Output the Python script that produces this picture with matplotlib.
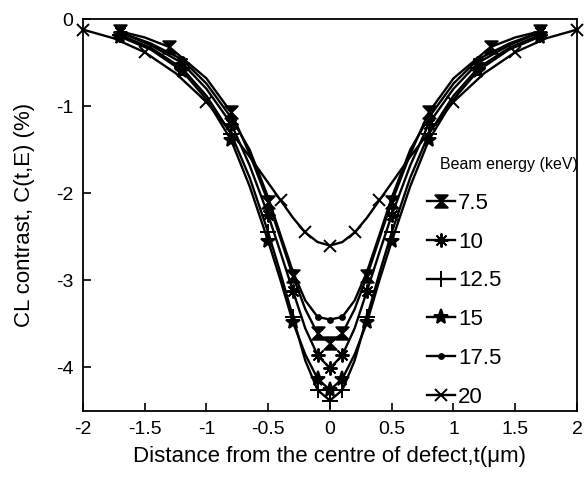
import numpy as np
import matplotlib
matplotlib.use("Agg")
import matplotlib.pyplot as plt
from matplotlib.path import Path

plt.rcParams['font.family'] = ['Liberation Sans', 'DejaVu Sans']
plt.rcParams['axes.unicode_minus'] = False

# half-profiles (t >= 0), mirrored below
t_half = [0, 0.1, 0.2, 0.3, 0.4, 0.5, 0.65, 0.8, 1.0, 1.2, 1.45, 1.7]
t75_half = [0, 0.1, 0.2, 0.3, 0.4, 0.5, 0.65, 0.8, 1.0, 1.3, 1.5, 1.7]
c_75 = [-3.72, -3.61, -3.33, -2.95, -2.52, -2.10, -1.55, -1.07, -0.68, -0.32, -0.21, -0.14]
c_10 = [-4.01, -3.86, -3.55, -3.12, -2.68, -2.25, -1.68, -1.20, -0.80, -0.50, -0.30, -0.15]
c_125 = [-4.38, -4.26, -3.92, -3.42, -2.92, -2.45, -1.82, -1.32, -0.88, -0.56, -0.33, -0.18]
c_15 = [-4.26, -4.13, -3.85, -3.48, -3.00, -2.55, -1.92, -1.39, -0.92, -0.59, -0.35, -0.20]
c_175 = [-3.45, -3.42, -3.23, -2.90, -2.48, -2.05, -1.50, -1.13, -0.74, -0.46, -0.28, -0.15]
t20_half = [0, 0.1, 0.2, 0.3, 0.4, 0.5, 0.65, 0.8, 1.0, 1.25, 1.5, 1.75, 2.0]
c_20 = [-2.60, -2.56, -2.45, -2.28, -2.08, -1.88, -1.58, -1.30, -0.95, -0.62, -0.38, -0.22, -0.12]

mark_t = [0, 0.1, 0.3, 0.5, 0.8, 1.2, 1.7]
mark_t75 = [0, 0.1, 0.3, 0.5, 0.8, 1.3, 1.7]
mark_t20 = [0, 0.2, 0.4, 1.0, 1.5, 2.0]

energies = ["7.5", "10", "12.5", "15", "17.5", "20"]

hourglass = Path([(-1, 1), (1, 1), (0, 0), (-1, 1), (-1, -1), (1, -1), (0, 0), (-1, -1)],
                 [Path.MOVETO, Path.LINETO, Path.LINETO, Path.CLOSEPOLY,
                  Path.MOVETO, Path.LINETO, Path.LINETO, Path.CLOSEPOLY])

def mirror(t, c):
    t = np.asarray(t, float)
    c = np.asarray(c, float)
    return np.concatenate([-t[:0:-1], t]), np.concatenate([c[:0:-1], c])

def mark_idx(tt, marks):
    return [i for i, v in enumerate(tt) if any(abs(abs(v) - m) < 1e-9 for m in marks)]

fig = plt.figure(figsize=(5.84, 4.79), dpi=100)
ax = fig.add_axes([0.142, 0.142, 0.846, 0.818])

series = [
    (t75_half, c_75, hourglass, 9, mark_t75),
    (t_half, c_10, (8, 2, 0), 10, mark_t),
    (t_half, c_125, "+", 11, mark_t),
    (t_half, c_15, "*", 11, mark_t),
    (t_half, c_175, "o", 3.5, mark_t),
    (t20_half, c_20, "x", 9, mark_t20),
]
for (th, ch, mk, ms, marks), lab in zip(series, energies):
    tt, cc = mirror(th, ch)
    ax.plot(tt, cc, color="black", lw=1.7, marker=mk, ms=ms, mew=1.4,
            markevery=mark_idx(tt, marks), label=lab, clip_on=False)

ax.set_xlim(-2, 2)
ax.set_ylim(-4.5, 0)
ax.set_xticks(np.arange(-2, 2.01, 0.5))
ax.set_xticklabels(["-2", "-1.5", "-1", "-0.5", "0", "0.5", "1", "1.5", "2"])
ax.set_yticks([0, -1, -2, -3, -4])
ax.tick_params(direction="in", length=6, width=1.2, labelsize=14,
               top=False, right=False, pad=7)
for s in ax.spines.values():
    s.set_linewidth(1.3)

ax.set_xlabel("Distance from the centre of defect,t(\u03bcm)", fontsize=16, labelpad=6)
ax.set_ylabel("CL contrast, C(t,E) (%)", fontsize=16, labelpad=15)

leg = ax.legend(loc="upper left", bbox_to_anchor=(0.696, 0.557), frameon=False,
                fontsize=16, handlelength=1.26, handletextpad=0.15,
                labelspacing=0.8, borderpad=0, borderaxespad=0)
ax.text(0.723, 0.628, "Beam energy (keV)", transform=ax.transAxes,
        fontsize=11.5, va="center", ha="left")

fig.savefig("out.png", dpi=100)
